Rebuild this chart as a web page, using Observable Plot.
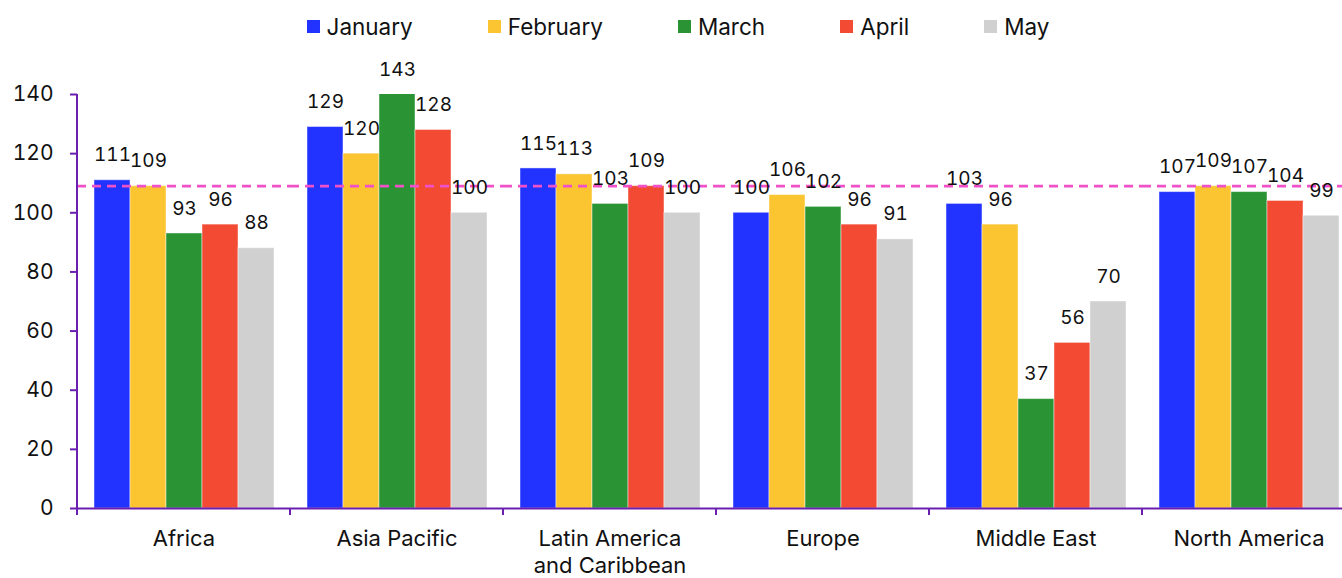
<!DOCTYPE html>
<html>
<head>
<meta charset="utf-8">
<script src="https://cdn.jsdelivr.net/npm/d3@7"></script>
<script src="https://cdn.jsdelivr.net/npm/@observablehq/plot@0.6"></script>
<style>
  html, body { margin: 0; padding: 0; background: #fff; overflow: hidden; }
  body { font-family: Inter, "Noto Sans", sans-serif; color: #111; }
  #legend { height: 50px; display: flex; justify-content: center; align-items: center; padding-top: 2px; box-sizing: border-box; gap: 0 75px; padding-left: 14px; }
  .item { display: flex; align-items: center; font-size: 22.5px; }
  .sw { width: 13px; height: 13px; margin-right: 7px; }
  #chart { width: 1342px; height: 528px; overflow: hidden; }
  #chart svg { max-width: none !important; display: block; }
</style>
</head>
<body>
<div id="legend"></div>
<div id="chart"></div>
<script>
const regions = ["Africa", "Asia Pacific", "Latin America and Caribbean", "Europe", "Middle East", "North America"];
const regionLabels = ["Africa", "Asia Pacific", "Latin America\nand Caribbean", "Europe", "Middle East", "North America"];
const months = ["January", "February", "March", "April", "May"];
const colors = ["#2233ff", "#fac531", "#2a9434", "#f24a33", "#d0d0d0"];
const january  = [111, 129, 115, 100, 103, 107];
const february = [109, 120, 113, 106, 96, 109];
const march    = [93, 143, 103, 102, 37, 107];
const april    = [96, 128, 109, 96, 56, 104];
const may      = [88, 100, 100, 91, 70, 99];
const reference = [109];
const yTicks = [0, 20, 40, 60, 80, 100, 120, 140];
const yMax = 140;

const series = [january, february, march, april, may];
const data = [];
regions.forEach((r, i) => months.forEach((m, j) => data.push({region: r, month: m, value: series[j][i]})));

const axisColor = "#6a1fb0";

// legend
const legend = d3.select("#legend");
months.forEach((m, j) => {
  const it = legend.append("div").attr("class", "item");
  it.append("div").attr("class", "sw").style("background", colors[j]);
  it.append("span").text(m);
});

const W = 1355, H = 528, mL = 77, mT = 44, mB = 70;
const chart = Plot.plot({
  width: W,
  height: H,
  marginLeft: mL,
  marginRight: 0,
  marginTop: mT,
  marginBottom: mB,
  style: {fontFamily: "Inter, 'Noto Sans', sans-serif", fontSize: "20px", color: "#111", background: "#fff", overflow: "visible", maxWidth: "none"},
  fx: {domain: regions, padding: 0, label: null},
  x: {domain: months, paddingInner: 0, paddingOuter: 0.39, axis: null},
  y: {domain: [0, yMax], label: null},
  color: {domain: months, range: colors},
  marks: [
    Plot.axisY({ticks: yTicks, tickSize: 7, tickPadding: 17, stroke: axisColor, strokeWidth: 2, fill: "#111", fontSize: 21, label: null}),
    Plot.axisFx({anchor: "bottom", tickSize: 0, tickPadding: 19, fontSize: 22, lineHeight: 1.2, label: null,
      tickFormat: d => regionLabels[regions.indexOf(d)], fill: "#111"}),
    Plot.barY(data, {fx: "region", x: "month", y: "value", fill: "month", stroke: "white", strokeOpacity: 0.45, strokeWidth: 1, clip: true}),
    Plot.ruleY(reference, {stroke: "#f050c8", strokeWidth: 2.6, strokeDasharray: "9,6"}),
    Plot.ruleY([0], {stroke: axisColor, strokeWidth: 2}),
    Plot.text(data, {fx: "region", x: "month", y: d => Math.min(d.value, yMax), text: d => String(d.value), dy: -25, fontSize: 19, fill: "#111", fontVariant: "tabular-nums"})
  ]
});
document.getElementById("chart").appendChild(chart);

// axis lines and category boundary ticks, from Plot's own scales
const fx = chart.scale("fx"), y = chart.scale("y");
const svg = d3.select(chart);
const g = svg.append("g").attr("stroke", axisColor).attr("stroke-width", 2);
const y0 = y.apply(0), yTop = y.apply(yMax);
const left = fx.apply(regions[0]);
g.append("line").attr("x1", left).attr("x2", left).attr("y1", yTop).attr("y2", y0 + 7);
regions.forEach(r => {
  const x1 = fx.apply(r) + fx.bandwidth;
  g.append("line").attr("x1", x1).attr("x2", x1).attr("y1", y0).attr("y2", y0 + 7);
});
</script>
</body>
</html>
